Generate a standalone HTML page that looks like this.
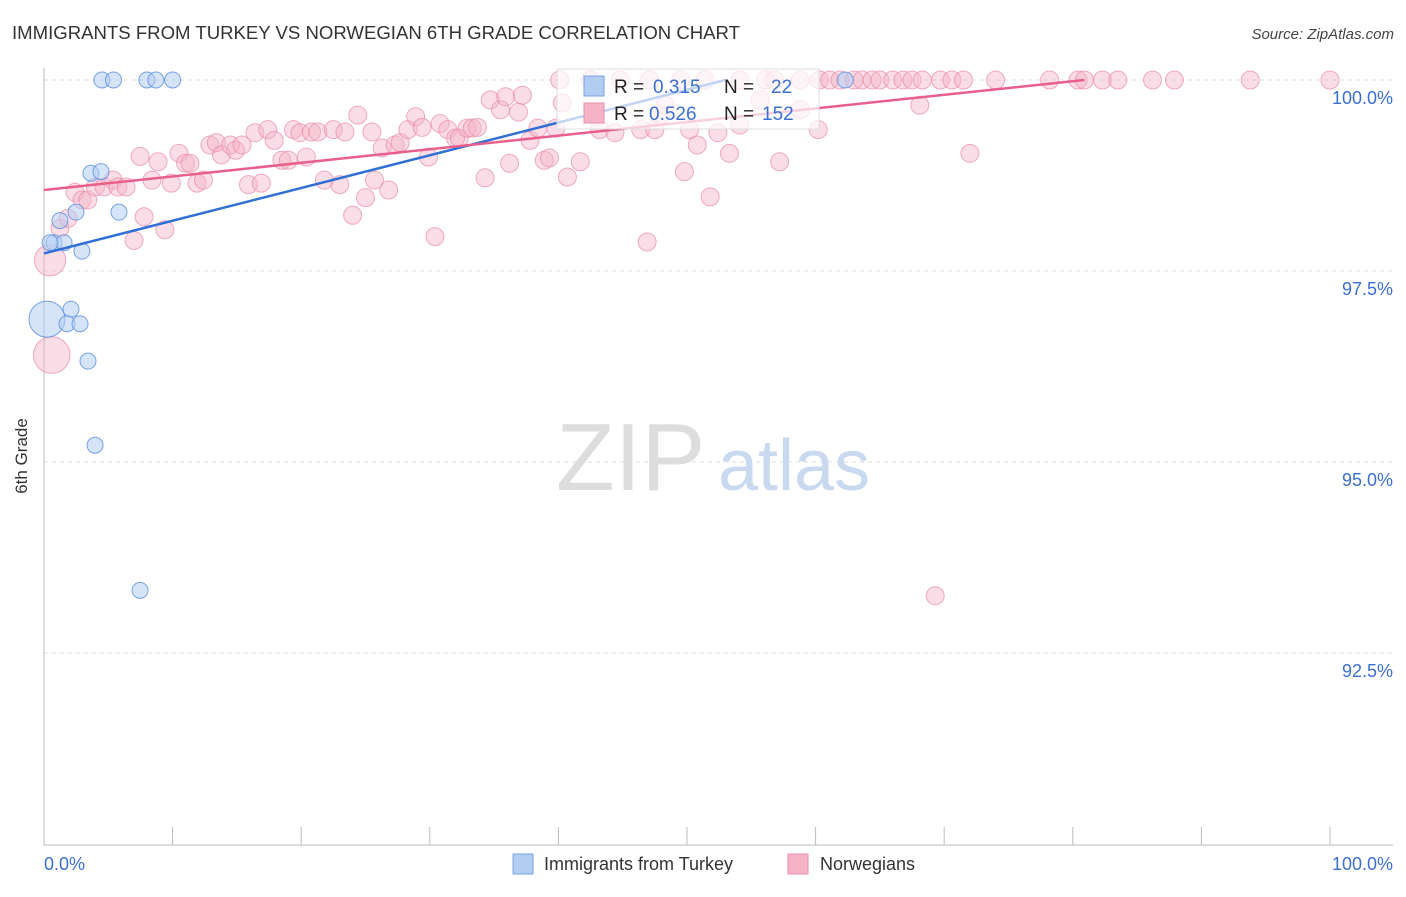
<!DOCTYPE html>
<html><head><meta charset="utf-8"><style>
body{margin:0;background:#fff;font-family:"Liberation Sans",sans-serif}
svg text{font-family:"Liberation Sans",sans-serif}
</style></head><body>
<svg id="chart" width="1406" height="892" xmlns="http://www.w3.org/2000/svg">
<text x="12" y="39" font-size="18" fill="#333" textLength="728" lengthAdjust="spacingAndGlyphs">IMMIGRANTS FROM TURKEY VS NORWEGIAN 6TH GRADE CORRELATION CHART</text>
<text x="1394" y="39" font-size="15" fill="#444" text-anchor="end" font-style="italic">Source: ZipAtlas.com</text>
<g id="grid"></g>
<text x="556" y="490" font-size="96" fill="#ddd" font-family="Liberation Serif">ZIP</text>
<text x="718" y="490" font-size="72" fill="#c9d9ef">atlas</text>
<g id="marks"></g>
<text x="27" y="456" font-size="17" fill="#333" text-anchor="middle" transform="rotate(-90 27 456)">6th Grade</text>
<g>
<rect x="557" y="69" width="262" height="60" fill="#fff" fill-opacity="0.7" stroke="#ddd"/>
<rect x="584" y="76" width="20" height="20" fill="#b3cdf2" stroke="#7aa3e0"/>
<rect x="584" y="103" width="20" height="20" fill="#f5b3c8" stroke="#e892ac"/>
<text x="614" y="93" font-size="19" fill="#222">R = </text><text x="653" y="93" font-size="19" fill="#3b6fd1">0.315</text>
<text x="724" y="93" font-size="19" fill="#222">N = </text><text x="771" y="93" font-size="19" fill="#3b6fd1">22</text>
<text x="614" y="120" font-size="19" fill="#222">R = </text><text x="649" y="120" font-size="19" fill="#3b6fd1">0.526</text>
<text x="724" y="120" font-size="19" fill="#222">N = </text><text x="762" y="120" font-size="19" fill="#3b6fd1">152</text>
</g>
<g>
<rect x="513" y="854" width="20" height="20" fill="#b3cdf2" stroke="#7aa3e0"/>
<text x="544" y="870" font-size="18" fill="#333">Immigrants from Turkey</text>
<rect x="788" y="854" width="20" height="20" fill="#f5b3c8" stroke="#e892ac"/>
<text x="820" y="870" font-size="18" fill="#333">Norwegians</text>
</g>
</svg>
<script>
const yTicks=[100,97.5,95,92.5];
const yTickLabels=["100.0%","97.5%","95.0%","92.5%"];
const xTicks=[0,10,20,30,40,50,60,70,80,90,100];
const blueX=[4.5,5.4,8.0,8.7,10.0,3.65,4.43,1.24,2.49,5.83,0.78,1.56,2.95,0.23,2.10,1.79,2.80,3.42,3.97,7.47,62.3,0.47];
const blueY=[100,100,100,100,100,98.78,98.80,98.16,98.27,98.27,97.87,97.87,97.76,96.87,97.00,96.81,96.81,96.32,95.22,93.32,100,97.87];
const blueSize=[1,1,1,1,1,1,1,1,1,1,1,1,1,2,1,1,1,1,1,1,1,1];
const pinkX=[40.1,42.5,44.8,47.1,49.5,51.4,54.1,56.1,56.8,58.8,60.3,61.1,61.9,63.0,63.6,64.4,65.0,66.0,66.8,67.5,68.3,69.7,70.6,71.5,74.0,78.2,80.4,80.9,82.3,83.5,86.2,87.9,93.8,100,
0.47,0.6,1.24,1.87,2.41,2.95,3.4,4.0,4.67,5.37,5.75,6.38,7.0,7.47,7.78,8.4,8.87,9.4,9.9,10.5,11.0,11.35,11.9,12.4,12.9,13.4,13.8,14.5,14.9,15.4,15.9,16.4,16.9,17.4,17.9,18.5,19.0,19.4,19.9,20.4,20.8,21.3,21.8,22.5,23.0,23.4,24.0,24.4,25.0,25.5,25.7,26.3,26.8,27.3,27.7,28.3,28.9,29.4,29.9,30.4,30.8,31.4,32.0,32.3,32.9,33.3,33.7,34.3,34.7,35.5,35.9,36.2,36.9,37.2,37.8,38.4,38.9,39.3,39.8,40.3,40.7,41.7,44.4,46.4,46.9,47.5,47.9,49.8,50.2,50.8,51.8,52.4,53.3,54.1,55.7,57.2,58.8,60.2,68.1,69.3,72.0,43.2,48.3];
const pinkY=[100,100,100,100,100,100,100,100,100,100,100,100,100,100,100,100,100,100,100,100,100,100,100,100,100,100,100,100,100,100,100,100,100,100,
97.64,96.4,98.06,98.19,98.53,98.43,98.43,98.6,98.6,98.69,98.6,98.6,97.9,99.0,98.21,98.69,98.93,98.04,98.65,99.04,98.91,98.91,98.65,98.69,99.15,99.18,99.02,99.15,99.08,99.15,98.63,99.31,98.65,99.35,99.21,98.95,98.95,99.35,99.31,98.99,99.32,99.32,98.69,99.35,98.63,99.32,98.23,99.54,98.46,99.32,98.69,99.11,98.56,99.15,99.18,99.35,99.52,99.38,98.99,97.95,99.43,99.35,99.24,99.24,99.37,99.37,99.38,98.72,99.74,99.61,99.78,98.91,99.58,99.8,99.21,99.37,98.95,98.98,99.37,99.7,98.73,98.93,99.31,99.35,97.88,99.35,99.54,98.8,99.35,99.15,98.47,99.31,99.04,99.41,99.74,98.93,99.61,99.35,99.67,93.25,99.04,99.35,99.67];
const pinkSize=pinkX.map((v,i)=>i===34?1.4:(i===35?1.7:1));
const blueLine=[0,97.73,53,100];
const pinkLine=[0,98.56,80.9,100];
const NS="http://www.w3.org/2000/svg";
function xs(p){return 44+p*12.86;}
function ys(v){return 80+(100-v)*76.4;}
const grid=document.getElementById('grid'),marks=document.getElementById('marks');
function mk(tag,attrs,parent){const e=document.createElementNS(NS,tag);for(const k in attrs)e.setAttribute(k,attrs[k]);parent.appendChild(e);return e;}
yTicks.forEach((t,i)=>{
 const l=mk('line',{x1:44,x2:1393,y1:ys(t),y2:ys(t),stroke:'#ddd','stroke-dasharray':'4,4'},grid);
 
 
 const tx=mk('text',{x:1393,y:ys(t)+24,'font-size':18,fill:'#3b6fd1','text-anchor':'end'},grid);
 tx.textContent=yTickLabels[i];
 
 
});
const ax=mk('line',{x1:44,x2:44,y1:68,y2:845,stroke:'#bbb'},grid);


const bx=mk('line',{x1:44,x2:1393,y1:845,y2:845,stroke:'#bbb'},grid);


xTicks.forEach(t=>{
 const l=mk('line',{x1:xs(t),x2:xs(t),y1:827,y2:845,stroke:'#bbb'},grid);
 
 
});
const xl0=mk('text',{x:44,y:870,'font-size':18,fill:'#3b6fd1'},grid);xl0.textContent='0.0%';


const xl1=mk('text',{x:1393,y:870,'font-size':18,fill:'#3b6fd1','text-anchor':'end'},grid);xl1.textContent='100.0%';


pinkX.forEach((x,i)=>{
 const c=mk('circle',{cx:xs(x),cy:ys(pinkY[i]),r:9*pinkSize[i]+(pinkSize[i]>1?3:0),fill:'#f5b3c8','fill-opacity':0.45,stroke:'#e88aa8','stroke-opacity':0.7},marks);
 
 
});
blueX.forEach((x,i)=>{
 const c=mk('circle',{cx:xs(x),cy:ys(blueY[i]),r:blueSize[i]>1?18:8,fill:'#b3cdf2','fill-opacity':0.55,stroke:'#5a8de0','stroke-opacity':0.8},marks);
 
 
});
const bl=mk('line',{x1:xs(blueLine[0]),y1:ys(blueLine[1]),x2:xs(blueLine[2]),y2:ys(blueLine[3]),stroke:'#2f6fd6','stroke-width':2.5},marks);


const pl=mk('line',{x1:xs(pinkLine[0]),y1:ys(pinkLine[1]),x2:xs(pinkLine[2]),y2:ys(pinkLine[3]),stroke:'#e8608a','stroke-width':2.5},marks);


</script>
</body></html>
